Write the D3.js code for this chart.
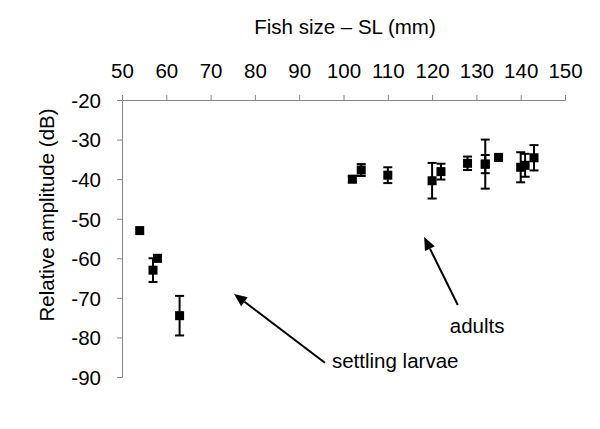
<!DOCTYPE html>
<html>
<head>
<meta charset="utf-8">
<script src="https://cdn.jsdelivr.net/npm/d3@7"></script>
<style>
  body { margin: 0; background: #fff; }
  text { font-family: "Liberation Sans", Arial, sans-serif; fill: #000; }
</style>
</head>
<body>
<svg id="chart" width="600" height="429"></svg>
<script>
// Data
const sizeSL    = [54, 57, 58, 63, 102, 104, 110, 120, 122, 128, 132, 132, 135, 140, 141, 143];
const amplitude = [-53, -63, -60, -74.5, -40, -37.7, -39, -40.4, -38.1, -36, -36.2, -36.2, -34.5, -37, -36.5, -34.6];
const errorDB   = [0, 3, 0.8, 5, 0.8, 1.5, 2, 4.5, 2, 1.7, 6.2, 2.3, 0.8, 3.8, 2.9, 3.2];

const xTicks = [50, 60, 70, 80, 90, 100, 110, 120, 130, 140, 150];
const yTicks = [-20, -30, -40, -50, -60, -70, -80, -90];

// annotations in data units: [x1, y1] tail -> [x2, y2] tip
const labels = ["settling larvae", "adults"];
const labelPos = [[97.4, -87.7], [124, -78.8]];
const arrows = [[[95.8, -86.4], [75.3, -69]], [[125.8, -71.8], [118.2, -54.6]]];

const fontSize = "20.5px";
const svg = d3.select("#chart");

const x = d3.scaleLinear().domain([50, 150]).range([122, 565]);
const y = d3.scaleLinear().domain([-20, -90]).range([100, 377]);

const axisColor = "#868686";

// top x axis
const gx = svg.append("g")
	.attr("transform", "translate(0," + y(-20) + ")")
	.call(d3.axisTop(x).tickValues(xTicks).tickSize(5).tickPadding(17));
gx.selectAll("text").style("font-size", fontSize);

// left y axis
const gy = svg.append("g")
	.attr("transform", "translate(" + x(50) + ",0)")
	.call(d3.axisLeft(y).tickValues(yTicks).tickSize(5).tickPadding(16)
		.tickFormat(d => d));
gy.selectAll("text").style("font-size", fontSize).attr("dy", "0.36em");

svg.selectAll(".domain, .tick line").attr("stroke", axisColor).attr("stroke-width", 1);
svg.selectAll(".tick text").attr("fill", "#000").attr("font-family", "Liberation Sans, Arial, sans-serif");

// axis titles
svg.append("text")
	.attr("x", 345).attr("y", 34)
	.attr("text-anchor", "middle")
	.style("font-size", fontSize)
	.text("Fish size \u2013 SL (mm)");

svg.append("text")
	.attr("transform", "translate(54,215) rotate(-90)")
	.attr("text-anchor", "middle")
	.style("font-size", fontSize)
	.text("Relative amplitude (dB)");

// error bars + squares
const pts = sizeSL.map((s, i) => ({ s: s, a: amplitude[i], e: errorDB[i] }));
const bars = svg.append("g").attr("stroke", "#000").attr("stroke-width", 2);
pts.filter(d => d.e > 0).forEach(d => {
	const cx = x(d.s);
	bars.append("line").attr("x1", cx).attr("x2", cx)
		.attr("y1", y(d.a + d.e)).attr("y2", y(d.a - d.e));
	[d.a + d.e, d.a - d.e].forEach(v => {
		bars.append("line").attr("x1", cx - 4.5).attr("x2", cx + 4.5)
			.attr("y1", y(v)).attr("y2", y(v));
	});
});

svg.append("g").selectAll("rect")
	.data(pts)
	.enter()
	.append("rect")
	.attr("x", d => x(d.s) - 4.5)
	.attr("y", d => y(d.a) - 4.5)
	.attr("width", 9)
	.attr("height", 9)
	.attr("fill", "#000");

// arrows
arrows.forEach(a => {
	const x1 = x(a[0][0]), y1 = y(a[0][1]), x2 = x(a[1][0]), y2 = y(a[1][1]);
	const ang = Math.atan2(y2 - y1, x2 - x1);
	const len = 13, half = 5.5;
	const bx = x2 - len * Math.cos(ang), by = y2 - len * Math.sin(ang);
	svg.append("line")
		.attr("x1", x1).attr("y1", y1).attr("x2", bx).attr("y2", by)
		.attr("stroke", "#000").attr("stroke-width", 2);
	const px = -Math.sin(ang) * half, py = Math.cos(ang) * half;
	svg.append("polygon")
		.attr("points", [[x2, y2], [bx + px, by + py], [bx - px, by - py]].map(p => p.join(",")).join(" "))
		.attr("fill", "#000");
});

svg.selectAll(".label")
	.data(labels)
	.enter()
	.append("text")
	.attr("class", "label")
	.attr("x", (d, i) => x(labelPos[i][0]))
	.attr("y", (d, i) => y(labelPos[i][1]))
	.style("font-size", fontSize)
	.text(d => d);
</script>
</body>
</html>
